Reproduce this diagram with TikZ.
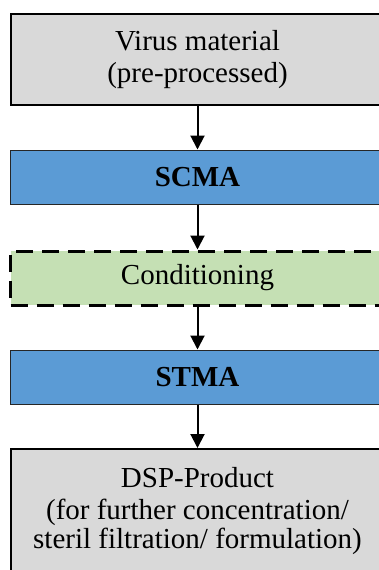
\documentclass[tikz,border=0pt]{standalone}
\usepackage{fontspec}
\setmainfont{Liberation Serif}
\usetikzlibrary{arrows.meta}

\definecolor{boxgray}{HTML}{D9D9D9}
\definecolor{boxblue}{HTML}{5B9BD5}
\definecolor{boxgreen}{HTML}{C5E0B4}

\begin{document}
\begin{tikzpicture}[x=1pt,y=-1pt,
  box/.style={minimum width=374pt,inner sep=0pt,align=center,font=\fontsize{29}{32}\selectfont},
  graybox/.style={box,draw,line width=2pt,fill=boxgray},
  bluebox/.style={box,draw=black!85,line width=1pt,fill=boxblue,font=\fontsize{29}{32}\selectfont\bfseries},
  condbox/.style={box,draw,line width=3pt,dash pattern=on 17pt off 9pt,fill=boxgreen},
  flow/.style={line width=2pt,-{Triangle[width=14pt,length=14pt]}}]

\clip (0,0) rectangle (379,570);

\node[graybox,minimum height=91pt] (virus) at (197.5,59.7) {Virus material\\(pre-processed)};
\node[bluebox,minimum height=54pt] (scma) at (197.5,177) {SCMA};
\node[condbox,minimum height=54pt] (cond) at (197.5,278) {Conditioning};
\node[bluebox,minimum height=54pt] (stma) at (197.5,377) {STMA};
\node[graybox,minimum height=124pt] (dsp) at (197.5,511)
  {DSP-Product\\(for further concentration/\\[-3pt]steril filtration/ formulation)};

\draw[flow] (virus) -- (scma);
\draw[flow] (scma) -- (cond);
\draw[flow] (cond) -- (stma);
\draw[flow] (stma) -- (dsp);

\end{tikzpicture}
\end{document}
